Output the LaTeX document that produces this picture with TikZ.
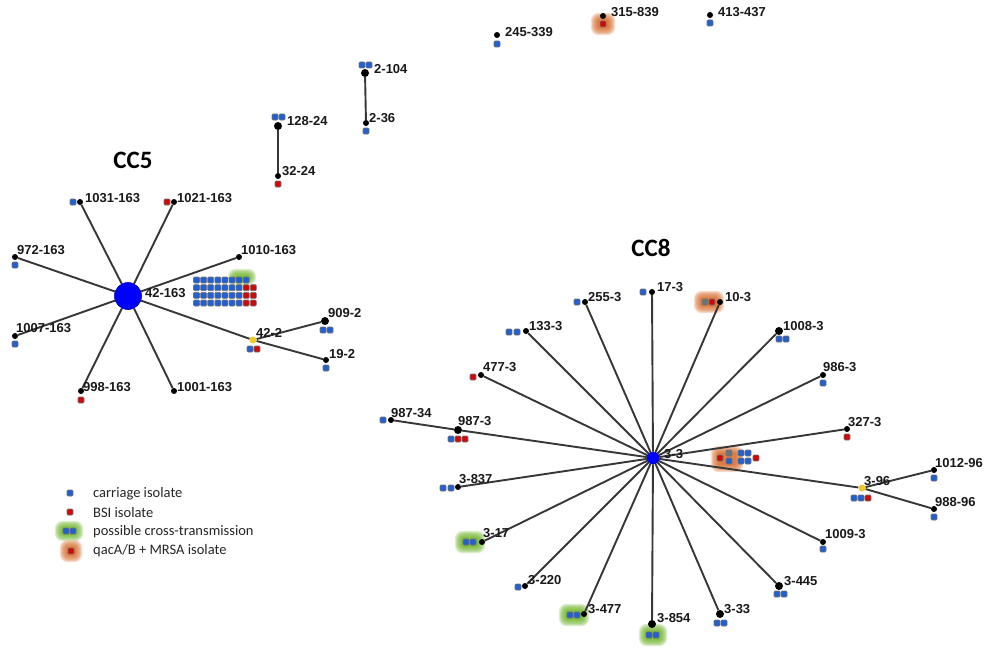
\documentclass[tikz,border=0pt]{standalone}
\usepackage{fontspec}
\setmainfont{Liberation Sans}
\newfontfamily\cfont{Carlito}
\usetikzlibrary{backgrounds}
\definecolor{cblue}{RGB}{35,95,205}
\definecolor{cred}{RGB}{205,10,10}
\definecolor{cgray}{RGB}{105,115,125}
\definecolor{cedge}{RGB}{55,55,55}
\definecolor{cglowg}{RGB}{100,175,25}
\definecolor{cglowo}{RGB}{215,100,30}
\definecolor{cyel}{RGB}{240,200,40}
\tikzset{
 edge/.style={draw=cedge, line width=1.9pt},
 dot/.style={circle, fill=black, inner sep=0pt, minimum size=6pt},
 bdot/.style={dot, minimum size=8pt},
 sqr/.style={rectangle, rounded corners=1pt, draw=black!55, line width=0.6pt, inner sep=0pt, minimum size=6pt},
 bs/.style={sqr, fill=cblue},
 rs/.style={sqr, fill=cred},
 gs/.style={sqr, fill=cgray},
 lab/.style={font=\bfseries\fontsize{13}{13}\selectfont, inner sep=0pt, anchor=west, text=black!90},
 ttl/.style={font=\cfont\bfseries\fontsize{25}{25}\selectfont, inner sep=0pt},
 leg/.style={font=\cfont\fontsize{14.5}{14.5}\selectfont, inner sep=0pt, anchor=west, text=black!85},
 hub/.style={circle, fill=blue, draw=blue!70!black, line width=0.6pt, inner sep=0pt},
 yel/.style={circle, fill=cyel, inner sep=0pt, minimum size=7pt},
}
\newcommand\glow[5]{%
 \foreach \k in {0,...,6}{%
  \fill[#1, opacity=0.22, rounded corners={(2+\k)*1pt}] ({#2-#4/2+4-\k*1.2},{#3-#5/2+4-\k*1.2}) rectangle ({#2+#4/2-4+\k*1.2},{#3+#5/2-4+\k*1.2});
 }%
}
\begin{document}
\begin{tikzpicture}[x=1pt,y=-1pt]
\begin{scope}[on background layer]
\fill[white] (0,0) rectangle (1000,658);
\end{scope}
\useasboundingbox (0,0) rectangle (1000,658);

% ---------- glows ----------
\begin{scope}[on background layer]
\glow{cglowo}{603}{24}{18}{16}
\glow{cglowg}{242}{277}{22}{10}
\glow{cglowo}{709}{302}{24}{16}
\glow{cglowo}{727}{459}{26}{20}
\glow{cglowg}{470}{542}{24}{16}
\glow{cglowg}{574}{615}{24}{16}
\glow{cglowg}{653}{635}{22}{16}
\glow{cglowg}{69}{531}{22}{14}
\glow{cglowo}{71}{551}{16}{16}
\end{scope}

% ---------- titles ----------
\node[ttl] (t5) at (133,160) {CC5};
\node[ttl] (t8) at (651,248) {CC8};

% ---------- top small groups ----------
\node[dot] (n245) at (497,35) {};  \node[bs] (s245) at (497,44) {};
\node[lab] (l245) at (505,32) {245-339};
\node[dot] (n315) at (603,16) {};  \node[rs] (s315) at (603,24) {};
\node[lab] (l315) at (611,12) {315-839};
\node[dot] (n413) at (710,15) {};  \node[bs] (s413) at (710,23) {};
\node[lab] (l413) at (718,12) {413-437};
\node[bdot] (n2104) at (365,73) {};
\node[bs] (s2104a) at (362,65) {}; \node[bs] (s2104b) at (369,65) {};
\node[lab] (l2104) at (374,69) {2-104};
\node[dot] (n236) at (366,123) {}; \node[bs] (s236) at (366,131) {};
\node[lab] (l236) at (369,118) {2-36};
\node[bdot] (n128) at (278,126) {};
\node[bs] (s128a) at (275,117) {}; \node[bs] (s128b) at (282,117) {};
\node[lab] (l128) at (287,121) {128-24};
\node[dot] (n32) at (278,176) {};  \node[rs] (s32) at (278,184) {};
\node[lab] (l32) at (282,171) {32-24};

% ---------- CC5 ----------
\node[hub, minimum size=27pt] (h5) at (128,296) {};
\node[lab] (lh5) at (145,293) {42-163};
\node[dot] (a1031) at (80,202) {};  \node[bs] (q1031) at (73,202) {};
\node[lab] (l1031) at (85,198) {1031-163};
\node[dot] (a1021) at (174,202) {}; \node[rs] (q1021) at (167,202) {};
\node[lab] (l1021) at (177,198) {1021-163};
\node[dot] (a972) at (15,257) {};   \node[bs] (q972) at (15,265) {};
\node[lab] (l972) at (17,250) {972-163};
\node[dot] (a1010) at (239,257) {};
\node[lab] (l1010) at (241,250) {1010-163};
\node[dot] (a1007) at (15,336) {};  \node[bs] (q1007) at (15,344) {};
\node[lab] (l1007) at (16,328) {1007-163};
\node[dot] (a998) at (81,391) {};   \node[rs] (q998) at (81,400) {};
\node[lab] (l998) at (83,387) {998-163};
\node[dot] (a1001) at (174,391) {};
\node[lab] (l1001) at (177,387) {1001-163};
\node[yel] (a422) at (253,340) {};
\node[bs] (q422a) at (250,349) {}; \node[rs] (q422b) at (257,349) {};
\node[lab] (l422) at (256,333) {42-2};
\node[bdot] (a909) at (325,321) {};
\node[bs] (q909a) at (323,330) {}; \node[bs] (q909b) at (330,330) {};
\node[lab] (l909) at (328,313) {909-2};
\node[dot] (a192) at (326,360) {};  \node[bs] (q192) at (326,368) {};
\node[lab] (l192) at (329,354) {19-2};
% grid of isolates of 42-163
\foreach \i in {0,...,7} {\node[bs] (g1-\i) at ({196.5+7.1*\i},280) {};}
\foreach \r/\y in {2/287.7,3/295.4,4/303} {
  \foreach \i in {0,...,6} {\node[bs] (g\r-\i) at ({196.5+7.1*\i},\y) {};}
  \foreach \i in {7,8} {\node[rs] (g\r-\i) at ({196.5+7.1*\i},\y) {};}
}

% ---------- CC8 ----------
\node[hub, minimum size=12pt] (h8) at (653,458) {};
\node[lab] (lh8) at (664,454) {3-3};
\node[dot] (b255) at (585,302) {};  \node[bs] (r255) at (577,302) {};
\node[lab] (l255) at (588,297) {255-3};
\node[dot] (b17) at (652,292) {};   \node[bs] (r17) at (643,292) {};
\node[lab] (l17) at (657,287) {17-3};
\node[dot] (b10) at (720,302) {};
\node[gs] (r10a) at (705,302) {};   \node[rs] (r10b) at (712,302) {};
\node[lab] (l10) at (725,297) {10-3};
\node[dot] (b133) at (526,331) {};
\node[bs] (r133a) at (509,332) {};  \node[bs] (r133b) at (517,332) {};
\node[lab] (l133) at (529,326) {133-3};
\node[dot] (b477) at (481,375) {};  \node[rs] (r477) at (473,377) {};
\node[lab] (l477) at (483,367) {477-3};
\node[dot] (b98734) at (391,420) {}; \node[bs] (r98734) at (383,420) {};
\node[lab] (l98734) at (391,413) {987-34};
\node[bdot] (b9873) at (458,430) {};
\node[bs] (r9873a) at (451,439) {}; \node[rs] (r9873b) at (458,439) {}; \node[rs] (r9873c) at (465,439) {};
\node[lab] (l9873) at (458,421) {987-3};
\node[dot] (b837) at (458,487) {};
\node[bs] (r837a) at (443,488) {};  \node[bs] (r837b) at (451,488) {};
\node[lab] (l837) at (459,479) {3-837};
\node[dot] (b317) at (482,542) {};
\node[bs] (r317a) at (466,542) {};  \node[bs] (r317b) at (473,542) {};
\node[lab] (l317) at (483,533) {3-17};
\node[dot] (b220) at (525,586) {};  \node[bs] (r220) at (518,587) {};
\node[lab] (l220) at (528,580) {3-220};
\node[dot] (b3477) at (584,614) {};
\node[bs] (r3477a) at (570,615) {}; \node[bs] (r3477b) at (577,615) {};
\node[lab] (l3477) at (588,609) {3-477};
\node[bdot] (b854) at (652,624) {};
\node[bs] (r854a) at (649,635) {};  \node[bs] (r854b) at (656,635) {};
\node[lab] (l854) at (657,618) {3-854};
\node[bdot] (b333) at (720,614) {};
\node[bs] (r333a) at (717,623) {};  \node[bs] (r333b) at (724,623) {};
\node[lab] (l333) at (724,609) {3-33};
\node[bdot] (b445) at (779,586) {};
\node[bs] (r445a) at (777,594) {};  \node[bs] (r445b) at (784,594) {};
\node[lab] (l445) at (784,581) {3-445};
\node[dot] (b1009) at (823,542) {}; \node[bs] (r1009) at (823,549) {};
\node[lab] (l1009) at (825,534) {1009-3};
\node[bdot] (b1008) at (779,331) {};
\node[bs] (r1008a) at (779,339) {}; \node[bs] (r1008b) at (786,339) {};
\node[lab] (l1008) at (783,326) {1008-3};
\node[dot] (b986) at (823,375) {};  \node[bs] (r986) at (823,383) {};
\node[lab] (l986) at (823,367) {986-3};
\node[dot] (b327) at (847,429) {};  \node[rs] (r327) at (847,437) {};
\node[lab] (l327) at (848,422) {327-3};
\node[yel] (b396) at (862,488) {};
\node[bs] (r396a) at (854,498) {}; \node[bs] (r396b) at (861,498) {}; \node[rs] (r396c) at (868,498) {};
\node[lab] (l396) at (864,481) {3-96};
\node[dot] (b1012) at (934,470) {}; \node[bs] (r1012) at (934,478) {};
\node[lab] (l1012) at (935,463) {1012-96};
\node[dot] (b988) at (934,509) {};  \node[bs] (r988) at (934,517) {};
\node[lab] (l988) at (935,502) {988-96};
% isolates of 3-3
\node[rs] (c1) at (720,458) {};
\node[gs] (c2) at (729,453) {};
\node[bs] (c3) at (729,461) {};
\node[bs] (c4) at (741,453) {};
\node[bs] (c5) at (748,453) {};
\node[bs] (c6) at (741,461) {};
\node[bs] (c7) at (748,461) {};
\node[rs] (c8) at (756,458) {};

% ---------- edges ----------
\begin{scope}[on background layer]
\draw[edge] (n2104) -- (n236);
\draw[edge] (n128) -- (n32);
\foreach \t in {a1031,a1021,a972,a1010,a1007,a998,a1001,a422}
  \draw[edge] (h5) -- (\t);
\draw[edge] (a422) -- (a909);
\draw[edge] (a422) -- (a192);
\foreach \t in {b255,b17,b10,b133,b477,b9873,b837,b317,b220,b3477,b854,b333,b445,b1009,b1008,b986,b327,b396}
  \draw[edge] (h8) -- (\t);
\draw[edge] (b9873) -- (b98734);
\draw[edge] (b396) -- (b1012);
\draw[edge] (b396) -- (b988);
\end{scope}

% ---------- legend ----------
\node[bs] (k1) at (70,493) {};
\node[leg] (kl1) at (93,494) {carriage isolate};
\node[rs] (k2) at (70,512) {};
\node[leg] (kl2) at (93,513) {BSI isolate};
\node[bs] (k3a) at (66,531) {}; \node[bs] (k3b) at (73,531) {};
\node[leg] (kl3) at (93,532) {possible cross-transmission};
\node[rs] (k4) at (71,551) {};
\node[leg] (kl4) at (93,551) {qacA/B + MRSA isolate};
\end{tikzpicture}
\end{document}
